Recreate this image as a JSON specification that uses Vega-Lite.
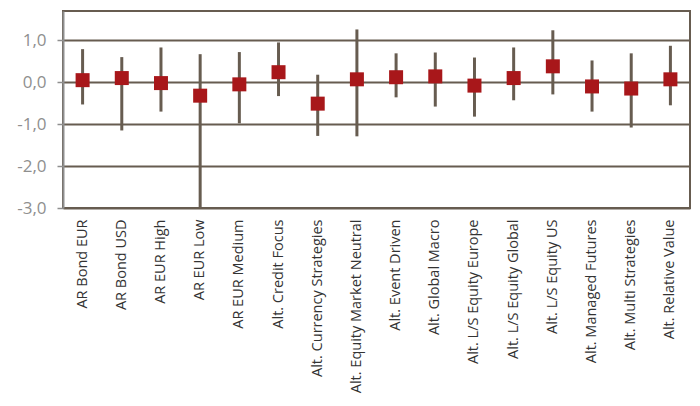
{
  "$schema": "https://vega.github.io/schema/vega-lite/v6.json",
  "autosize": "none",
  "width": 627,
  "height": 197,
  "padding": {"left": 63, "top": 11, "right": 10, "bottom": 198},
  "background": "white",
  "config": {
    "view": {"stroke": "#675c50", "strokeWidth": 2},
    "font": "Open Sans"
  },
  "data": {
    "values": [
      {"cat": "AR Bond EUR", "mean": 0.05, "lo": -0.53, "hi": 0.79},
      {"cat": "AR Bond USD", "mean": 0.10, "lo": -1.15, "hi": 0.60},
      {"cat": "AR EUR High", "mean": -0.02, "lo": -0.70, "hi": 0.83},
      {"cat": "AR EUR Low", "mean": -0.32, "lo": -3.0, "hi": 0.67},
      {"cat": "AR EUR Medium", "mean": -0.05, "lo": -0.98, "hi": 0.72},
      {"cat": "Alt. Credit Focus", "mean": 0.24, "lo": -0.33, "hi": 0.95},
      {"cat": "Alt. Currency Strategies", "mean": -0.51, "lo": -1.28, "hi": 0.18},
      {"cat": "Alt. Equity Market Neutral", "mean": 0.07, "lo": -1.29, "hi": 1.26},
      {"cat": "Alt. Event Driven", "mean": 0.12, "lo": -0.36, "hi": 0.69},
      {"cat": "Alt. Global Macro", "mean": 0.14, "lo": -0.58, "hi": 0.71},
      {"cat": "Alt. L/S Equity Europe", "mean": -0.08, "lo": -0.82, "hi": 0.59},
      {"cat": "Alt. L/S Equity Global", "mean": 0.10, "lo": -0.43, "hi": 0.83},
      {"cat": "Alt. L/S Equity US", "mean": 0.38, "lo": -0.29, "hi": 1.24},
      {"cat": "Alt. Managed Futures", "mean": -0.10, "lo": -0.70, "hi": 0.52},
      {"cat": "Alt. Multi Strategies", "mean": -0.15, "lo": -1.08, "hi": 0.69},
      {"cat": "Alt. Relative Value", "mean": 0.07, "lo": -0.55, "hi": 0.87}
    ]
  },
  "encoding": {
    "x": {
      "field": "cat",
      "type": "nominal",
      "sort": null,
      "title": null,
      "axis": {
        "labelAngle": -90,
        "labelAlign": "right",
        "labelBaseline": "middle",
        "labelPadding": 11,
        "labelFontSize": 14.5,
        "labelColor": "#333333",
        "ticks": false,
        "domain": false,
        "grid": false
      }
    }
  },
  "layer": [
    {
      "mark": {"type": "rule", "strokeWidth": 3, "color": "#675c50"},
      "encoding": {
        "y": {
          "field": "lo",
          "type": "quantitative",
          "scale": {"domain": [-3, 1.7], "nice": false, "zero": false},
          "title": null,
          "axis": {
            "values": [-3, -2, -1, 0, 1],
            "labelExpr": "replace(replace(format(datum.value, '.1f'), '.', ','), '\u2212', '-')",
            "labelFontSize": 17,
            "labelColor": "#8f8f8f",
            "labelPadding": 11,
            "tickColor": "#8f8f8f",
            "tickSize": 6,
            "tickWidth": 1.5,
            "domainColor": "#8f8f8f",
            "domainWidth": 2,
            "gridColor": "#675c50",
            "gridWidth": 2,
            "gridOpacity": 1
          }
        },
        "y2": {"field": "hi"}
      }
    },
    {
      "mark": {"type": "point", "shape": "square", "filled": true, "size": 196, "color": "#a8171a", "opacity": 1},
      "encoding": {
        "y": {"field": "mean", "type": "quantitative"}
      }
    }
  ]
}
